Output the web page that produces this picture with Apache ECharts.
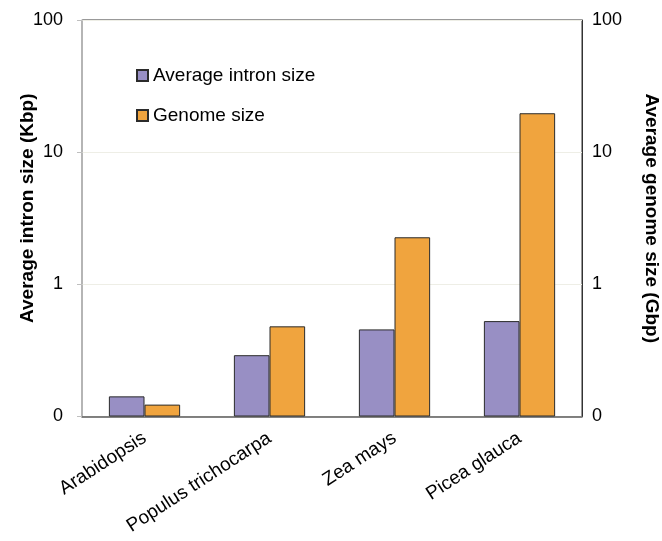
<!DOCTYPE html>
<html>
<head>
<meta charset="utf-8">
<script src="https://cdn.jsdelivr.net/npm/echarts@6/dist/echarts.min.js"></script>
<style>html,body{margin:0;padding:0;background:#fff}#c{width:662px;height:541px}</style>
</head>
<body>
<div id="c"></div>
<script>
var categories = ['Arabidopsis', 'Populus trichocarpa', 'Zea mays', 'Picea glauca'];
var intronSize = [0.142, 0.291, 0.456, 0.527];
var genomeSize = [0.123, 0.481, 2.27, 19.7];
var seriesNames = ['Average intron size', 'Genome size'];
var axisTicks = [0.1, 1, 10, 100];

var FONT = '"Liberation Sans", Arial, sans-serif';
function fmt(v) { return v < 1 ? '0' : String(Math.round(v)); }

var chart = echarts.init(document.getElementById('c'), null, {renderer: 'canvas'});
chart.setOption({
  animation: false,
  backgroundColor: '#ffffff',
  textStyle: {fontFamily: FONT},
  grid: {left: 82, right: 80, top: 20, bottom: 124.5, show: true, borderColor: '#333', borderWidth: 1, backgroundColor: 'transparent', containLabel: false, outerBoundsMode: 'none'},
  legend: {
    orient: 'vertical', left: 131, top: 61, itemWidth: 11, itemHeight: 11, itemGap: 21,
    textStyle: {fontSize: 19, color: '#000', fontFamily: FONT},
    data: seriesNames.map(function(n){return {name: n, icon: 'rect'};})
  },
  xAxis: {
    type: 'category', data: categories,
    axisLine: {lineStyle: {color: '#595959', width: 1.5}},
    axisTick: {show: false},
    axisLabel: {rotate: 33, fontSize: 19, color: '#000', margin: 20, interval: 0, fontFamily: FONT}
  },
  yAxis: [{
    type: 'log', logBase: 10, min: axisTicks[0], max: axisTicks[axisTicks.length-1], startValue: axisTicks[0],
    name: 'Average intron size (Kbp)', nameLocation: 'middle', nameGap: 45, nameMoveOverlap: false,
    nameTextStyle: {fontSize: 19, fontWeight: 'bold', color: '#000', fontFamily: FONT, padding: [0, 0, 0, 20]},
    axisLine: {show: true, lineStyle: {color: '#BFBFBF', width: 1.5}},
    axisTick: {show: true, length: 5, lineStyle: {color: '#BFBFBF'}},
    axisLabel: {fontSize: 18, color: '#000', margin: 19, formatter: fmt, fontFamily: FONT},
    splitLine: {show: true, lineStyle: {color: '#EEEEE6', width: 1}}
  }, {
    type: 'log', logBase: 10, min: axisTicks[0], max: axisTicks[axisTicks.length-1], startValue: axisTicks[0],
    position: 'right',
    name: 'Average genome size (Gbp)', nameLocation: 'middle', nameGap: 60, nameRotate: -90, nameMoveOverlap: false,
    nameTextStyle: {fontSize: 19, fontWeight: 'bold', color: '#000', fontFamily: FONT},
    axisLine: {show: true, lineStyle: {color: '#333', width: 1}},
    axisTick: {show: false},
    axisLabel: {fontSize: 18, color: '#000', margin: 10, formatter: fmt, fontFamily: FONT},
    splitLine: {show: false}
  }],
  series: [{
    name: seriesNames[0], type: 'bar', yAxisIndex: 0, data: intronSize,
    barGap: '0%', barCategoryGap: '43%',
    itemStyle: {color: '#988FC4', borderColor: '#2b2b2b', borderWidth: 1}
  }, {
    name: seriesNames[1], type: 'bar', yAxisIndex: 1, data: genomeSize,
    barGap: '0%', barCategoryGap: '43%',
    itemStyle: {color: '#F0A43E', borderColor: '#2b2b2b', borderWidth: 1}
  }]
});
</script>
</body>
</html>
